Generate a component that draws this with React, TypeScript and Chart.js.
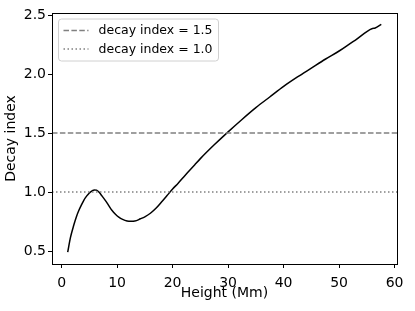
import React, { useEffect, useRef } from "react";
import { Chart, registerables } from "chart.js";

Chart.register(...registerables);

const heights = [1.1, 1.6, 2.2, 2.7, 3.1, 3.6, 4.0, 4.5, 5.0, 5.5, 5.9, 6.3, 6.8, 7.3, 7.9, 8.5, 9.1, 9.7, 10.3, 11.0, 11.8, 12.5, 13.2, 14.2, 15.0, 16.0, 17.0, 18.0, 19.0, 20.0, 21.0, 22.0, 23.0, 24.0, 25.0, 27.5, 30.0, 32.5, 35.0, 37.5, 40.0, 42.5, 45.0, 47.5, 50.0, 52.5, 53.0, 55.0, 56.0, 56.5, 57.6];
const decayIndex = [0.49, 0.615, 0.72, 0.795, 0.843, 0.893, 0.93, 0.965, 0.992, 1.01, 1.018, 1.016, 0.995, 0.965, 0.927, 0.885, 0.843, 0.812, 0.787, 0.768, 0.755, 0.752, 0.754, 0.773, 0.79, 0.82, 0.862, 0.915, 0.97, 1.025, 1.075, 1.128, 1.18, 1.232, 1.283, 1.4, 1.51, 1.615, 1.715, 1.805, 1.895, 1.975, 2.05, 2.125, 2.195, 2.275, 2.29, 2.36, 2.385, 2.39, 2.42];

const refLevels = [1.5, 1.0];
const refLabels = ["decay index = 1.5", "decay index = 1.0"];

const xLimits = [-1.73, 60.43];
const yLimits = [0.39, 2.517];
const xTickStep = 10;
const yTickStep = 0.5;

const FONT = "'DejaVu Sans', sans-serif";

const framePlugin = {
  id: "frame",
  afterDraw(chart: any) {
    const { ctx, chartArea } = chart;
    ctx.save();
    ctx.strokeStyle = "#000";
    ctx.lineWidth = 1;
    ctx.strokeRect(
      Math.round(chartArea.left) + 0.5,
      Math.round(chartArea.top) + 0.5,
      Math.round(chartArea.right - chartArea.left),
      Math.round(chartArea.bottom - chartArea.top)
    );
    ctx.restore();
  },
};

const legendPlugin = {
  id: "mplLegend",
  afterDraw(chart: any) {
    const { ctx, chartArea } = chart;
    const x0 = chartArea.left + 6.5;
    const y0 = chartArea.top + 6;
    const w = 160;
    const h = 42;
    ctx.save();
    ctx.beginPath();
    const r = 3;
    ctx.moveTo(x0 + r, y0);
    ctx.lineTo(x0 + w - r, y0);
    ctx.arcTo(x0 + w, y0, x0 + w, y0 + r, r);
    ctx.lineTo(x0 + w, y0 + h - r);
    ctx.arcTo(x0 + w, y0 + h, x0 + w - r, y0 + h, r);
    ctx.lineTo(x0 + r, y0 + h);
    ctx.arcTo(x0, y0 + h, x0, y0 + h - r, r);
    ctx.lineTo(x0, y0 + r);
    ctx.arcTo(x0, y0, x0 + r, y0, r);
    ctx.closePath();
    ctx.fillStyle = "rgba(255,255,255,0.8)";
    ctx.fill();
    ctx.strokeStyle = "#d0d0d0";
    ctx.lineWidth = 1;
    ctx.stroke();

    const dashes = [
      [5.5, 2.4],
      [1.5, 2.5],
    ];
    ctx.font = `12.5px ${FONT}`;
    ctx.textBaseline = "middle";
    ctx.fillStyle = "#000";
    refLabels.forEach((label, i) => {
      const cy = y0 + 11.5 + i * 18.6;
      ctx.beginPath();
      ctx.setLineDash(dashes[i]);
      ctx.strokeStyle = "#808080";
      ctx.lineWidth = 1.5;
      ctx.moveTo(x0 + 5, cy);
      ctx.lineTo(x0 + 30, cy);
      ctx.stroke();
      ctx.setLineDash([]);
      ctx.fillText(label, x0 + 40, cy + 0.5);
    });
    ctx.restore();
  },
};

export default function App() {
  const ref = useRef<HTMLCanvasElement | null>(null);

  useEffect(() => {
    document.body.style.margin = "0";
    if (!ref.current) return;
    const curve = heights.map((x, i) => ({ x, y: decayIndex[i] }));
    const refSets = refLevels.map((lvl, i) => ({
      label: refLabels[i],
      data: [
        { x: xLimits[0], y: lvl },
        { x: xLimits[1], y: lvl },
      ],
      borderColor: "#808080",
      borderWidth: 1.5,
      borderDash: i === 0 ? [5.5, 2.4] : [1.5, 2.5],
      pointRadius: 0,
      fill: false,
    }));
    const chart = new Chart(ref.current, {
      type: "line",
      data: {
        datasets: [
          ...refSets,
          {
            label: "decay index",
            data: curve,
            borderColor: "#000",
            borderWidth: 1.5,
            pointRadius: 0,
            cubicInterpolationMode: "monotone",
            fill: false,
          },
        ],
      },
      options: {
        responsive: false,
        animation: false,
        layout: { padding: { top: 13, right: 18, left: 0, bottom: 9 } },
        plugins: {
          legend: { display: false },
          tooltip: { enabled: false },
        },
        scales: {
          x: {
            type: "linear",
            min: xLimits[0],
            max: xLimits[1],
            border: { display: false },
            grid: {
              drawOnChartArea: false,
              drawTicks: true,
              tickLength: 4,
              tickColor: "#000",
            },
            ticks: {
              stepSize: xTickStep,
              includeBounds: false,
              color: "#000",
              font: { family: FONT, size: 14 },
              padding: 7,
              maxRotation: 0,
            },
            title: {
              display: true,
              text: "Height (Mm)",
              color: "#000",
              font: { family: FONT, size: 14 },
              padding: { top: 0, bottom: 0 },
            },
            afterFit(scale: any) {
              scale.height = 38;
            },
          },
          y: {
            type: "linear",
            min: yLimits[0],
            max: yLimits[1],
            border: { display: false },
            grid: {
              drawOnChartArea: false,
              drawTicks: true,
              tickLength: 4,
              tickColor: "#000",
            },
            ticks: {
              stepSize: yTickStep,
              includeBounds: false,
              color: "#000",
              font: { family: FONT, size: 14 },
              padding: 2,
              callback: (v: any) => Number(v).toFixed(1),
            },
            title: {
              display: true,
              text: "Decay index",
              color: "#000",
              font: { family: FONT, size: 14 },
              padding: { top: 3, bottom: 4 },
            },
            afterFit(scale: any) {
              scale.width = 52;
            },
          },
        },
      },
      plugins: [framePlugin, legendPlugin],
    } as any);
    return () => chart.destroy();
  }, []);

  return <canvas ref={ref} width={415} height={311} style={{ display: "block" }} />;
}
